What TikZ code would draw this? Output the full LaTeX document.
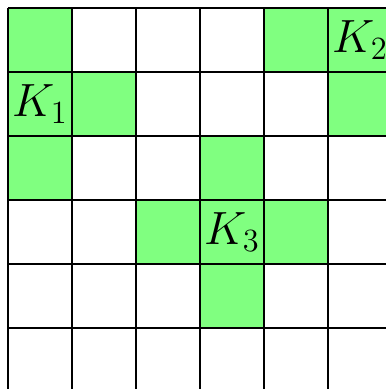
\documentclass[tikz,border=0pt]{standalone}
\usepackage{tikz}

\begin{document}
\begin{tikzpicture}[x=1cm, y=1cm, cell/.style={fill=green!50}, every node/.style={font=\huge}]
\useasboundingbox (-0.125,0.047) rectangle (5.906,6.125);
\clip (-0.125,0.047) rectangle (5.906,6.125);
% marked cells, column/row counted from top left
\foreach \c/\r in {0/0,4/0,5/0,0/1,1/1,5/1,0/2,3/2,2/3,3/3,4/3,3/4}
  \fill[cell] (\c,5-\r) rectangle ++(1,1);
\draw[line width=1pt] (0,0) grid (6,6);
\node (k1) at (0.5,4.5) {$K_1$};
\node (k2) at (5.5,5.5) {$K_2$};
\node (k3) at (3.5,2.5) {$K_3$};
\end{tikzpicture}
\end{document}
